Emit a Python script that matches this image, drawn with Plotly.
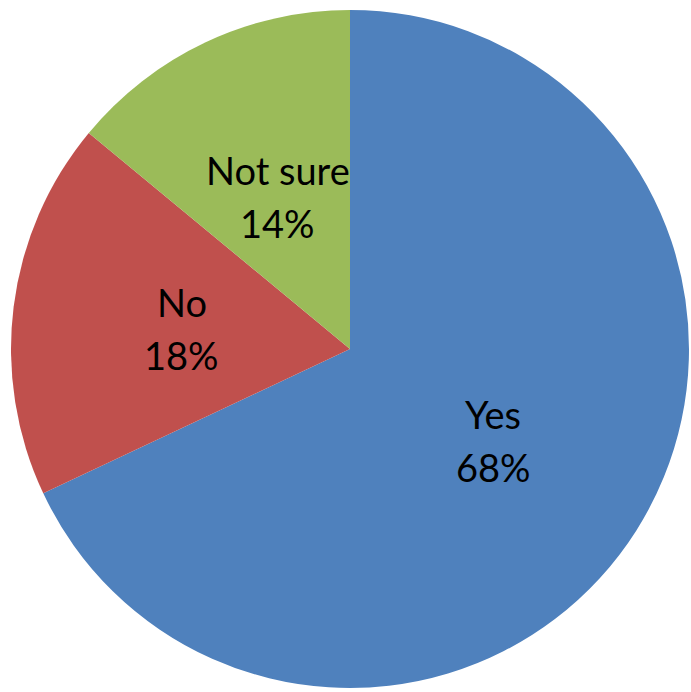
import math
import plotly.graph_objects as go

# Survey answers and their shares (percent)
answers = ["Yes", "No", "Not sure"]
shares = [68, 18, 14]
slice_colors = ["#4F81BD", "#C0504D", "#9BBB59"]

fig = go.Figure(
    go.Pie(
        labels=answers,
        values=shares,
        sort=False,
        direction="clockwise",
        rotation=0,
        marker=dict(colors=slice_colors, line=dict(width=0)),
        textinfo="none",
        hoverinfo="label+percent",
        showlegend=False,
        domain=dict(x=[0, 1], y=[0, 1]),
    )
)

# Place each label halfway out along its slice's bisector
label_font = dict(family="Lato", size=38, color="#000000")
total = sum(shares)
start = 0.0
for name, value in zip(answers, shares):
    mid = (start + value / 2) / total * 2 * math.pi  # clockwise from 12 o'clock
    start += value
    x = 0.5 + 0.25 * math.sin(mid)
    y = 0.5 + 0.25 * math.cos(mid)
    pct = round(value / total * 100)
    common = dict(x=x, y=y, xref="paper", yref="paper", showarrow=False,
                  font=label_font, xanchor="center", yanchor="middle")
    fig.add_annotation(text=name, yshift=26, **common)
    fig.add_annotation(text=f"{pct}%", yshift=-27, **common)

fig.update_layout(
    width=691,
    height=692,
    margin=dict(l=11, r=2, t=10, b=4),
    paper_bgcolor="white",
    plot_bgcolor="white",
)

fig.write_html("out.html")
